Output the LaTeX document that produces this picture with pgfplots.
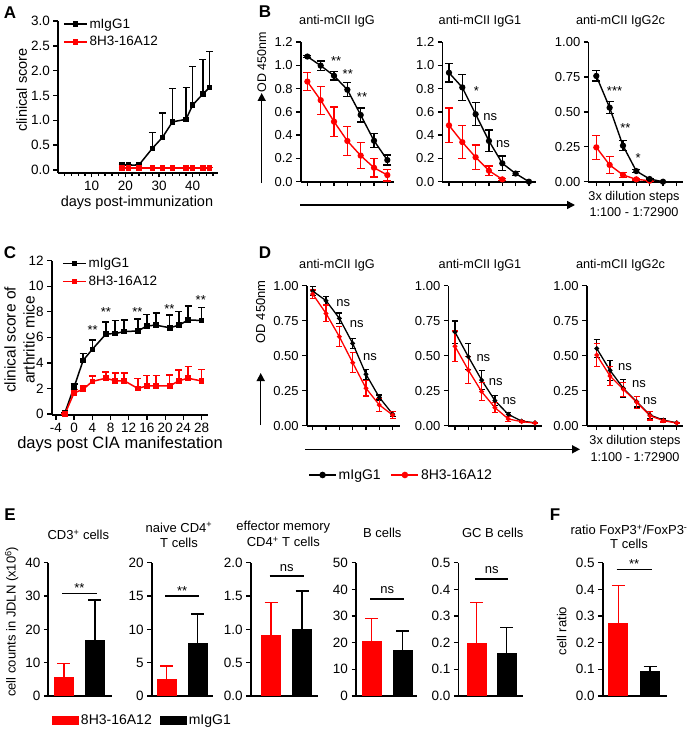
\documentclass[border=0pt]{standalone}
\usepackage{fontspec}
\setmainfont{Liberation Sans}
\usepackage{pgfplots}
\pgfplotsset{compat=1.18}
\usetikzlibrary{arrows.meta}
\definecolor{myred}{RGB}{255,0,0}
\newcommand\fsz[2]{\fontsize{#1}{#2}\selectfont}
\tikzset{
  st/.style={font=\fsz{13}{15}, anchor=base, yshift=-7pt, inner sep=0pt},
  nsl/.style={font=\fsz{13}{15}, anchor=base, yshift=-3.5pt, inner sep=0pt},
  sigst/.style={font=\fsz{13}{15}, anchor=base, yshift=1pt, inner sep=0pt},
  signs/.style={font=\fsz{13}{15}, anchor=base, yshift=5pt, inner sep=0pt},
}
\pgfplotsset{
  base/.style={scale only axis, anchor=south west, axis lines=left,
    axis line style={-, line width=1.6pt, black},
    tick align=outside, major tick length=4.5pt, minor tick length=3pt,
    tick style={black, line width=1.4pt},
    /pgf/number format/assume math mode=true,
    tick label style={font=\fsz{13.5}{15}},
    enlargelimits=false, clip=false},
  prec1/.style={yticklabel style={/pgf/number format/.cd, fixed, fixed zerofill, precision=1}},
  prec2/.style={yticklabel style={/pgf/number format/.cd, fixed, fixed zerofill, precision=2}},
  od/.style={base, xtick={1,...,7}, xticklabels={}, tick label style={font=\fsz{13}{15}}},
  kc/.style={black, line width=1.4pt, mark=*, mark size=2.4pt,
    error bars/y dir=both, error bars/y explicit,
    error bars/error bar style={line width=1.3pt, black, solid},
    error bars/error mark options={rotate=90, mark size=4pt, line width=1.3pt, black}},
  rc/.style={myred, line width=1.4pt, mark=*, mark size=2.4pt,
    error bars/y dir=both, error bars/y explicit,
    error bars/error bar style={line width=1.3pt, myred, solid},
    error bars/error mark options={rotate=90, mark size=4pt, line width=1.3pt, myred}},
  kd/.style={black, line width=1.3pt, mark=*, mark size=1.7pt,
    error bars/y dir=both, error bars/y explicit,
    error bars/error bar style={line width=1.2pt, black, solid},
    error bars/error mark options={rotate=90, mark size=3pt, line width=1.2pt, black}},
  rd/.style={myred, line width=1.3pt, mark=*, mark size=1.7pt,
    error bars/y dir=both, error bars/y explicit,
    error bars/error bar style={line width=1.2pt, myred, solid},
    error bars/error mark options={rotate=90, mark size=3pt, line width=1.2pt, myred}},
  ks/.style={black, line width=1.5pt, mark=square*, mark size=2pt,
    error bars/y dir=plus, error bars/y explicit,
    error bars/error bar style={line width=1.4pt, black, solid},
    error bars/error mark options={rotate=90, mark size=3.5pt, line width=1.4pt, black}},
  rs/.style={myred, line width=1.5pt, mark=square*, mark size=2pt,
    error bars/y dir=plus, error bars/y explicit,
    error bars/error bar style={line width=1.4pt, myred, solid},
    error bars/error mark options={rotate=90, mark size=3.5pt, line width=1.4pt, myred}},
  lleg/.style={legend image code/.code={\draw[mark repeat=2,mark phase=2,##1] plot coordinates {(0pt,0pt)(11.5pt,0pt)(23pt,0pt)};}},
  dleg/.style={legend image code/.code={\draw[mark repeat=2,mark phase=2,##1,mark size=2.6pt] plot coordinates {(0pt,0pt)(13.5pt,0pt)(27pt,0pt)};}},
  ebar/.style={base, height=133.3pt, ymin=0, xtick=\empty, ybar, bar width=20pt, bar shift=0pt},
  rb/.style={fill=myred, draw=none, error bars/y dir=plus, error bars/y explicit,
    error bars/error bar style={line width=1.4pt, myred},
    error bars/error mark options={rotate=90, mark size=6.5pt, line width=1.4pt, myred}},
  kb/.style={fill=black, draw=none, error bars/y dir=plus, error bars/y explicit,
    error bars/error bar style={line width=1.4pt, black},
    error bars/error mark options={rotate=90, mark size=6.5pt, line width=1.4pt, black}},
  barleg/.style={legend image code/.code={\fill[##1] (0pt,-4.5pt) rectangle (27pt,4.5pt);}},
}
\begin{document}
\begin{tikzpicture}
\useasboundingbox (0pt,0pt) rectangle (687pt,-730pt);

% ---------------- A
\begin{axis}[base, at={(58pt,-173pt)}, width=160pt, height=152pt,
  xmin=0, xmax=47.5, ymin=-0.06, ymax=3,
  xtick={10,20,30,40}, minor xtick={2,4,...,46},
  ytick={0,0.5,...,3}, prec1, lleg,
  legend entries={mIgG1,8H3-16A12}, legend cell align=left,
  legend style={at={(0.03,1.03)}, anchor=north west, draw=none, fill=none,
    font=\fsz{13.5}{16}, row sep=3pt, inner sep=0pt}]
\addplot[ks] coordinates {(19,0.1) +- (0,0) (21,0.1) +- (0,0) (24,0.1) +- (0,0)
  (28,0.435) +- (0,0.32) (31,0.656) +- (0,0.49) (34,0.97) +- (0,0.67)
  (38,1.02) +- (0,0.64) (40,1.31) +- (0,0.78) (43,1.53) +- (0,0.70) (45,1.66) +- (0,0.72)};
\addplot[rs] coordinates {(19,0.04) +- (0,0.01) (21,0.04) +- (0,0.01) (24,0.04) +- (0,0.01)
  (28,0.04) +- (0,0.01) (31,0.04) +- (0,0.01) (34,0.04) +- (0,0.01)
  (38,0.04) +- (0,0.01) (40,0.04) +- (0,0.01) (43,0.04) +- (0,0.01) (45,0.04) +- (0,0.01)};
\end{axis}

% ---------------- B1
\begin{axis}[od, at={(300.7pt,-181.7pt)}, width=93.3pt, height=139.7pt,
  xmin=0.5, xmax=7.5, ymin=0, ymax=1.2, ytick={0,0.2,...,1.2}, prec1]
\addplot[rc] coordinates {(1,0.86) +- (0,0.077) (2,0.70) +- (0,0.12) (3,0.516) +- (0,0.126)
  (4,0.35) +- (0,0.125) (5,0.224) +- (0,0.11) (6,0.12) +- (0,0.08) (7,0.057) +- (0,0.05)};
\addplot[kc] coordinates {(1,1.075) +- (0,0.01) (2,0.997) +- (0,0.04) (3,0.91) +- (0,0.036)
  (4,0.79) +- (0,0.06) (5,0.573) +- (0,0.06) (6,0.352) +- (0,0.06) (7,0.186) +- (0,0.043)};
\node[st] at (axis cs:3.16,1.06) {**};
\node[st] at (axis cs:4.03,0.95) {**};
\node[st] at (axis cs:5.1,0.75) {**};
\end{axis}

% ---------------- B2
\begin{axis}[od, at={(442.3pt,-181.7pt)}, width=93.3pt, height=139.7pt,
  xmin=0.5, xmax=7.5, ymin=0, ymax=1.2, ytick={0,0.2,...,1.2}, prec1]
\addplot[rc] coordinates {(1,0.484) +- (0,0.15) (2,0.34) +- (0,0.14) (3,0.21) +- (0,0.105)
  (4,0.095) +- (0,0.04) (5,0.02) +- (0,0.01)};
\addplot[kc] coordinates {(1,0.936) +- (0,0.08) (2,0.81) +- (0,0.11) (3,0.58) +- (0,0.1)
  (4,0.35) +- (0,0.093) (5,0.158) +- (0,0.063) (6,0.07) +- (0,0.017) (7,0.0) +- (0,0)};
\node[st] at (axis cs:3.06,0.80) {*};
\node[nsl] at (axis cs:4.1,0.56) {ns};
\node[nsl] at (axis cs:5.05,0.32) {ns};
\end{axis}

% ---------------- B3
\begin{axis}[od, at={(588.3pt,-181.7pt)}, width=94.7pt, height=139.7pt,
  xmin=0.4, xmax=7.5, ymin=0, ymax=1, ytick={0,0.25,...,1}, prec2]
\addplot[rc] coordinates {(1,0.246) +- (0,0.087) (2,0.12) +- (0,0.062) (3,0.048) +- (0,0.02)
  (4,0.017) +- (0,0.005) (5,0.007) +- (0,0.003)};
\addplot[kc] coordinates {(1,0.757) +- (0,0.037) (2,0.53) +- (0,0.044) (3,0.258) +- (0,0.035)
  (4,0.076) +- (0,0.01) (5,0.019) +- (0,0.005) (6,0.0) +- (0,0)};
\node[st] at (axis cs:2.37,0.67) {***};
\node[st] at (axis cs:3.18,0.40) {**};
\node[st] at (axis cs:4.13,0.19) {*};
\end{axis}

% ---------------- C
\begin{axis}[base, at={(51.7pt,-415pt)}, width=156.6pt, height=154.3pt,
  xmin=-4.9, xmax=29.45, ymin=-0.08, ymax=12,
  xtick={-4,0,...,28}, ytick={0,2,...,12}, lleg,
  legend entries={mIgG1,8H3-16A12}, legend cell align=left,
  legend style={at={(0.066,1.03)}, anchor=north west, draw=none, fill=none,
    font=\fsz{13.5}{16}, row sep=3pt, inner sep=0pt}]
\addplot[ks] coordinates {(-2,0.1) +- (0,0) (0,2.1) +- (0,0.25) (2,4.2) +- (0,0.55)
  (4,5.06) +- (0,0.74) (7,6.26) +- (0,0.94) (9,6.3) +- (0,1.0) (11,6.45) +- (0,0.9)
  (14,6.5) +- (0,0.95) (16,6.9) +- (0,0.9) (18,6.95) +- (0,0.95) (21,6.75) +- (0,1.0)
  (23,6.95) +- (0,1.05) (25,7.35) +- (0,1.1) (28,7.33) +- (0,1.02)};
\addplot[rs] coordinates {(-2,0) +- (0,0) (0,1.65) +- (0,0.25) (2,1.93) +- (0,0.25)
  (4,2.55) +- (0,0.42) (7,2.8) +- (0,0.5) (9,2.6) +- (0,0.6) (11,2.6) +- (0,0.6)
  (14,2.0) +- (0,0.8) (16,2.2) +- (0,0.8) (18,2.2) +- (0,0.8) (21,2.2) +- (0,0.85)
  (23,2.6) +- (0,0.85) (25,2.8) +- (0,0.9) (28,2.58) +- (0,0.9)};
\node[st] at (axis cs:4.1,6.8) {**};
\node[st] at (axis cs:7,8.2) {**};
\node[st] at (axis cs:13.9,8.2) {**};
\node[st] at (axis cs:20.9,8.4) {**};
\node[st] at (axis cs:27.8,9.1) {**};
\end{axis}

% ---------------- D1
\begin{axis}[od, at={(306.7pt,-425.7pt)}, width=93.3pt, height=140pt,
  xmin=0.55, xmax=7.55, ymin=0, ymax=1, ytick={0,0.25,...,1}, prec2]
\addplot[kd] coordinates {(1,0.962) +- (0,0.03) (2,0.893) +- (0,0.032) (3,0.767) +- (0,0.038)
  (4,0.588) +- (0,0.036) (5,0.367) +- (0,0.036) (6,0.202) +- (0,0.018) (7,0.083) +- (0,0.018)};
\addplot[rd] coordinates {(1,0.94) +- (0,0.03) (2,0.802) +- (0,0.06) (3,0.636) +- (0,0.071)
  (4,0.45) +- (0,0.071) (5,0.267) +- (0,0.055) (6,0.148) +- (0,0.044) (7,0.076) +- (0,0.024)};
\node[nsl] at (axis cs:3.3,0.874) {ns};
\node[nsl] at (axis cs:4.3,0.73) {ns};
\node[nsl] at (axis cs:5.3,0.49) {ns};
\end{axis}

% ---------------- D2
\begin{axis}[od, at={(448.3pt,-425.7pt)}, width=94pt, height=140pt,
  xmin=0.5, xmax=7.55, ymin=0, ymax=1, ytick={0,0.25,...,1}, prec2, dleg,
  legend entries={mIgG1,8H3-16A12},
  legend style={at={(-1.49,-0.352)}, anchor=west, draw=none, fill=none,
    font=\fsz{14}{16}, inner sep=0pt, legend columns=2,
    /tikz/every even column/.append style={column sep=8pt}}]
\addplot[kd] coordinates {(1,0.669) +- (0,0.079) (2,0.493) +- (0,0.093) (3,0.326) +- (0,0.067)
  (4,0.179) +- (0,0.036) (5,0.081) +- (0,0.015) (6,0.033) +- (0,0.005) (7,0.021) +- (0,0.004)};
\addplot[rd] coordinates {(1,0.567) +- (0,0.11) (2,0.398) +- (0,0.095) (3,0.243) +- (0,0.063)
  (4,0.129) +- (0,0.036) (5,0.048) +- (0,0.018) (6,0.029) +- (0,0.005) (7,0.019) +- (0,0.004)};
\node[nsl] at (axis cs:3.13,0.486) {ns};
\node[nsl] at (axis cs:4.06,0.31) {ns};
\node[nsl] at (axis cs:5.08,0.18) {ns};
\end{axis}

% ---------------- D3
\begin{axis}[od, at={(586.7pt,-425.7pt)}, width=96pt, height=140pt,
  xmin=0.25, xmax=7.45, ymin=0, ymax=1, ytick={0,0.25,...,1}, prec2]
\addplot[kd] coordinates {(1,0.552) +- (0,0.065) (2,0.395) +- (0,0.071) (3,0.267) +- (0,0.062)
  (4,0.171) +- (0,0.038) (5,0.076) +- (0,0.024) (6,0.04) +- (0,0.008) (7,0.021) +- (0,0.004)};
\addplot[rd] coordinates {(1,0.505) +- (0,0.083) (2,0.355) +- (0,0.068) (3,0.26) +- (0,0.05)
  (4,0.167) +- (0,0.044) (5,0.071) +- (0,0.03) (6,0.036) +- (0,0.01) (7,0.019) +- (0,0.004)};
\node[nsl] at (axis cs:3.13,0.417) {ns};
\node[nsl] at (axis cs:4.18,0.298) {ns};
\node[nsl] at (axis cs:5.0,0.18) {ns};
\end{axis}

% ---------------- E1
\begin{axis}[ebar, at={(48.3pt,-696pt)}, width=63.4pt, xmin=0.494, xmax=2.54,
  ymax=40, ytick={0,10,...,40}]
\addplot[rb] coordinates {(1,5.6) +- (0,4.2)};
\addplot[kb] coordinates {(2,16.8) +- (0,12.0)};
\draw[line width=1.4pt] (axis cs:0.95,30.8) -- (axis cs:2.05,30.8);
\node[sigst] at (axis cs:1.5,30.8) {**};
\end{axis}

% ---------------- E2
\begin{axis}[ebar, at={(151.7pt,-696pt)}, width=61.3pt, xmin=0.516, xmax=2.494,
  ymax=20, ytick={0,5,...,20}, barleg,
  legend entries={8H3-16A12,mIgG1},
  legend style={at={(-1.63,-0.18)}, anchor=west, draw=none, fill=none,
    font=\fsz{14}{16}, inner sep=0pt, legend columns=2,
    /tikz/every even column/.append style={column sep=6pt}}]
\addplot[rb] coordinates {(1,2.5) +- (0,2.0)};
\addplot[kb] coordinates {(2,7.9) +- (0,4.4)};
\draw[line width=1.4pt] (axis cs:0.95,15) -- (axis cs:2.05,15);
\node[sigst] at (axis cs:1.5,15) {**};
\end{axis}

% ---------------- E3
\begin{axis}[ebar, at={(250.7pt,-696pt)}, width=67pt, xmin=0.34, xmax=2.5,
  ymax=2, ytick={0,0.5,...,2}, prec1]
\addplot[rb] coordinates {(1,0.915) +- (0,0.485)};
\addplot[kb] coordinates {(2,1.0) +- (0,0.575)};
\draw[line width=1.4pt] (axis cs:0.95,1.8) -- (axis cs:2.05,1.8);
\node[signs] at (axis cs:1.5,1.8) {ns};
\end{axis}

% ---------------- E4
\begin{axis}[ebar, at={(356pt,-696pt)}, width=60.7pt, xmin=0.494, xmax=2.452,
  ymax=50, ytick={0,10,...,50}]
\addplot[rb] coordinates {(1,20.75) +- (0,8.35)};
\addplot[kb] coordinates {(2,17.25) +- (0,7.15)};
\draw[line width=1.4pt] (axis cs:0.95,36.4) -- (axis cs:2.05,36.4);
\node[signs] at (axis cs:1.5,36.4) {ns};
\end{axis}

% ---------------- E5
\begin{axis}[ebar, at={(458.3pt,-696pt)}, width=65pt, xmin=0.387, xmax=2.553,
  ymax=0.5, ytick={0,0.1,...,0.5}, prec1]
\addplot[rb] coordinates {(1,0.1975) +- (0,0.1525)};
\addplot[kb] coordinates {(2,0.1625) +- (0,0.0935)};
\draw[line width=1.4pt] (axis cs:0.95,0.439) -- (axis cs:2.05,0.439);
\node[signs] at (axis cs:1.5,0.439) {ns};
\end{axis}

% ---------------- F
\begin{axis}[ebar, at={(602.7pt,-696pt)}, width=64.3pt, xmin=0.508, xmax=2.536,
  ymax=0.5, ytick={0,0.1,...,0.5}, prec1]
\addplot[rb] coordinates {(1,0.275) +- (0,0.14)};
\addplot[kb] coordinates {(2,0.095) +- (0,0.015)};
\draw[line width=1.4pt] (axis cs:0.95,0.475) -- (axis cs:2.05,0.475);
\node[sigst] at (axis cs:1.5,0.475) {**};
\end{axis}

% ---------------- panel letters
\begin{scope}[every node/.style={font=\fsz{17}{20}\bfseries, inner sep=0pt}]
\node at (10pt,-13pt) {A};
\node at (265pt,-12pt) {B};
\node at (10pt,-253pt) {C};
\node at (265pt,-253pt) {D};
\node at (10pt,-515pt) {E};
\node at (555pt,-515pt) {F};
\end{scope}

% ---------------- A, C labels
\node[font=\fsz{14.5}{17}, rotate=90] at (21.7pt,-90pt) {clinical score};
\node[font=\fsz{14.5}{17}] at (137pt,-202.7pt) {days post-immunization};
\node[font=\fsz{15.5}{19}, rotate=90] at (10pt,-340pt) {clinical score of};
\node[font=\fsz{15.5}{19}, rotate=90] at (29pt,-340pt) {arthritic mice};
\node[font=\fsz{16.5}{19}] at (120pt,-444pt) {days post CIA manifestation};

% ---------------- B, D texts
\begin{scope}[every node/.style={font=\fsz{12.7}{15}}]
\node at (337pt,-21.7pt) {anti-mCII IgG};
\node at (480pt,-21.7pt) {anti-mCII IgG1};
\node at (620.5pt,-21.7pt) {anti-mCII IgG2c};
\node at (337pt,-265pt) {anti-mCII IgG};
\node at (480pt,-265pt) {anti-mCII IgG1};
\node at (620.5pt,-265pt) {anti-mCII IgG2c};
\node at (634pt,-197.3pt) {3x dilution steps};
\node at (634pt,-211.7pt) {1:100 - 1:72900};
\node at (635pt,-441.7pt) {3x dilution steps};
\node at (635pt,-456.7pt) {1:100 - 1:72900};
\end{scope}
\node[font=\fsz{12.5}{14}, rotate=90] at (261.7pt,-62pt) {OD 450nm};
\node[font=\fsz{13}{14}, rotate=90] at (260.7pt,-311.7pt) {OD 450nm};
\draw[line width=1.5pt, -{Triangle[width=8pt,length=8pt]}] (261.7pt,-183pt) -- (261.7pt,-93pt);
\draw[line width=1.5pt, -{Triangle[width=8pt,length=8pt]}] (300pt,-205pt) -- (575pt,-205pt);
\draw[line width=1.5pt, -{Triangle[width=8pt,length=8pt]}] (260.7pt,-425pt) -- (260.7pt,-373pt);
\draw[line width=1.5pt, -{Triangle[width=8pt,length=8pt]}] (305pt,-449.3pt) -- (580pt,-449.3pt);

% ---------------- E, F texts
\begin{scope}[every node/.style={font=\fsz{13}{15}}]
\node at (78.3pt,-535pt) {CD3\textsuperscript{+} cells};
\node at (179pt,-527.3pt) {naive CD4\textsuperscript{+}};
\node at (179pt,-542.7pt) {T cells};
\node at (283.3pt,-526.7pt) {effector memory};
\node at (283.3pt,-541.7pt) {CD4\textsuperscript{+} T cells};
\node at (382.3pt,-532.7pt) {B cells};
\node at (492.7pt,-532.7pt) {GC B cells};
\node at (629pt,-530pt) {ratio FoxP3\textsuperscript{+}/FoxP3\textsuperscript{-}};
\node at (629pt,-544pt) {T cells};
\node[rotate=90] at (11.7pt,-621.7pt) {cell counts in JDLN (x10\textsuperscript{6})};
\node[rotate=90] at (561.7pt,-631pt) {cell ratio};
\end{scope}
\end{tikzpicture}
\end{document}
